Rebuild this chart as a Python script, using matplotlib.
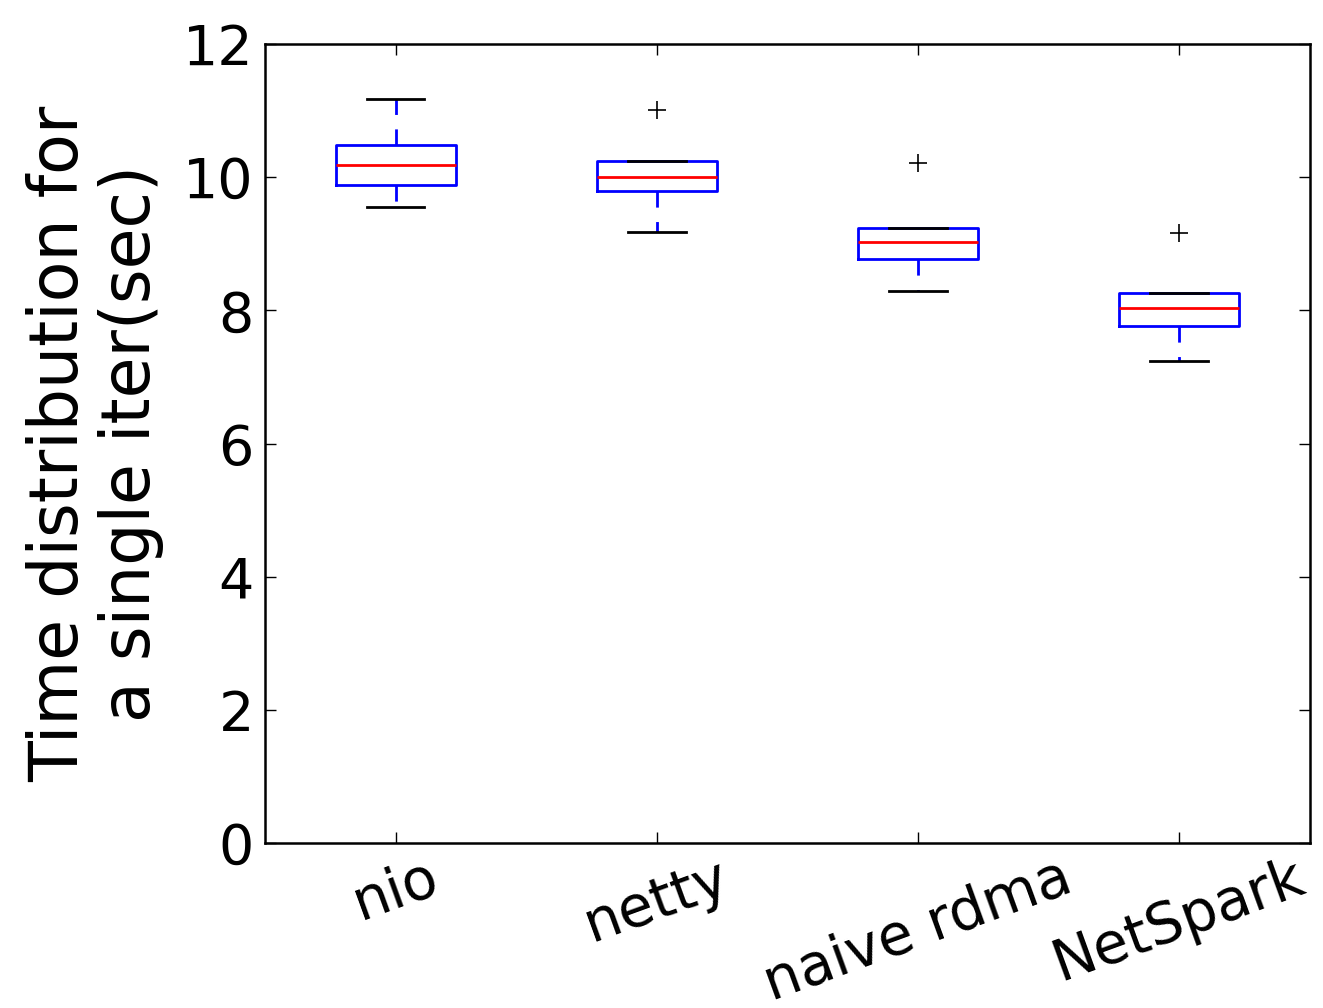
import matplotlib
matplotlib.use("Agg")
import matplotlib.pyplot as plt

categories = ["nio", "netty", "naive rdma", "NetSpark"]
whis_hi = [11.18, 10.24, 9.24, 8.26]
q3 = [10.48, 10.24, 9.24, 8.26]
medians = [10.18, 10.00, 9.02, 8.03]
q1 = [9.88, 9.80, 8.77, 7.76]
whis_lo = [9.56, 9.18, 8.29, 7.24]
fliers = [[], [11.01], [10.21], [9.16]]
yticks = [0, 2, 4, 6, 8, 10, 12]

stats = []
for i, c in enumerate(categories):
    stats.append(dict(label=c, med=medians[i], q1=q1[i], q3=q3[i],
                      whislo=whis_lo[i], whishi=whis_hi[i], fliers=fliers[i]))

fig = plt.figure(figsize=(13.23, 10.08), dpi=100)
ax = fig.add_axes([0.2003, 0.1637, 0.7897, 0.7926])

ax.bxp(stats, widths=0.46, capwidths=0.22,
       boxprops=dict(color="blue", linewidth=2),
       whiskerprops=dict(color="blue", linestyle=(0, (5.8, 5.2)), linewidth=2),
       capprops=dict(color="black", linewidth=2),
       medianprops=dict(color="red", linewidth=2),
       flierprops=dict(marker="+", markeredgecolor="black", markersize=13,
                       markeredgewidth=1.2, linestyle="none"))

ax.set_ylim(0, 12)
ax.set_xlim(0.5, 4.5)
ax.set_yticks(yticks)
ax.set_xticks([1, 2, 3, 4])
ax.set_xticklabels(categories, rotation=20)
ax.tick_params(direction="in", top=True, right=True, length=8, width=1,
               labelsize=40, pad=8)
ax.tick_params(axis="x", labelsize=41, pad=5)
for s in ax.spines.values():
    s.set_linewidth(1.8)
ax.set_ylabel("Time distribution for\na single iter(sec)", fontsize=48,
              labelpad=14, linespacing=1.1)

fig.savefig("out.png", dpi=100)
